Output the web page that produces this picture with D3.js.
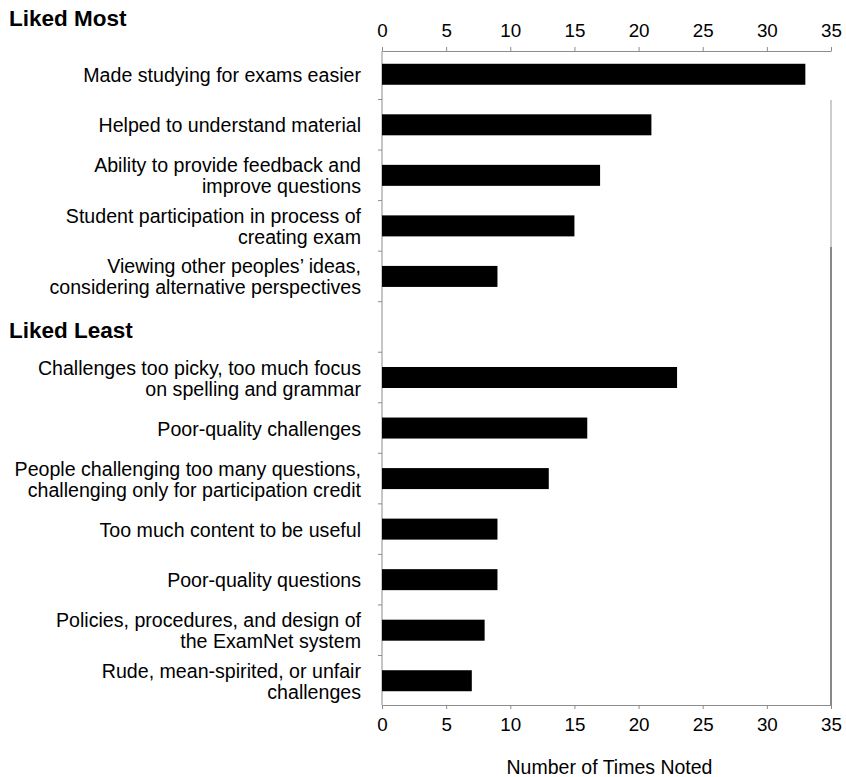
<!DOCTYPE html>
<html>
<head>
<meta charset="utf-8">
<script src="https://cdn.jsdelivr.net/npm/d3@7"></script>
<style>
  html, body { margin: 0; padding: 0; background: #fff; }
  svg { display: block; font-family: "Liberation Sans", Arial, Helvetica, sans-serif; }
</style>
</head>
<body>
<svg id="chart" width="846" height="777"></svg>
<script>
// ---- data ----
const groups = ["Liked Most", "Liked Least"];
const likedMostCategories = [
  "Made studying for exams easier",
  "Helped to understand material",
  "Ability to provide feedback and\nimprove questions",
  "Student participation in process of\ncreating exam",
  "Viewing other peoples\u2019 ideas,\nconsidering alternative perspectives"
];
const likedMostValues = [33, 21, 17, 15, 9];
const likedLeastCategories = [
  "Challenges too picky, too much focus\non spelling and grammar",
  "Poor-quality challenges",
  "People challenging too many questions,\nchallenging only for participation credit",
  "Too much content to be useful",
  "Poor-quality questions",
  "Policies, procedures, and design of\nthe ExamNet system",
  "Rude, mean-spirited, or unfair\nchallenges"
];
const likedLeastValues = [23, 16, 13, 9, 9, 8, 7];
const xTicks = [0, 5, 10, 15, 20, 25, 30, 35];
const xTitle = "Number of Times Noted";

// ---- build rows (with a spacer row for the second group header) ----
const rows = [];
likedMostCategories.forEach((c, i) => rows.push({ key: "m" + i, label: c, value: likedMostValues[i] }));
rows.push({ key: "spacer", label: null, value: null, header: groups[1] });
likedLeastCategories.forEach((c, i) => rows.push({ key: "l" + i, label: c, value: likedLeastValues[i] }));

const svg = d3.select("#chart");
const x0 = 382, x1 = 831, yTop = 51, yBot = 705;

const x = d3.scaleLinear().domain([0, 35]).range([x0, x1]);
const y = d3.scaleBand().domain(rows.map(r => r.key)).range([49, 706]).paddingInner(0).paddingOuter(0);
const barH = 21;
const gray = "#8c8c8c";

// Top axis
const topAxis = svg.append("g").attr("transform", `translate(0,${yTop})`)
  .call(d3.axisTop(x).tickValues(xTicks).tickSize(4).tickPadding(10).tickSizeOuter(0));
// Bottom axis
const botAxis = svg.append("g").attr("transform", `translate(0,${yBot})`)
  .call(d3.axisBottom(x).tickValues(xTicks).tickSize(4).tickPadding(9).tickSizeOuter(0));
[topAxis, botAxis].forEach(g => {
  g.select(".domain").attr("stroke", gray).attr("stroke-width", 1);
  g.selectAll(".tick line").attr("stroke", gray);
  g.selectAll(".tick text").attr("fill", "#000")
    .style("font-size", "18.8px")
    .style("font-family", "'Liberation Sans', Arial, Helvetica, sans-serif");
});

// Left axis line with ticks at row boundaries
svg.append("line").attr("x1", x0).attr("x2", x0).attr("y1", yTop).attr("y2", yBot)
  .attr("stroke", gray).attr("stroke-width", 1);
const boundaries = rows.map(r => y(r.key)).slice(1);
svg.append("g").selectAll("line").data(boundaries).join("line")
  .attr("x1", x0 - 4).attr("x2", x0)
  .attr("y1", d => d).attr("y2", d => d)
  .attr("stroke", gray);

// Right frame line
svg.append("line").attr("x1", x1).attr("x2", x1).attr("y1", 100).attr("y2", 247)
  .attr("stroke", "#9a9a9a").attr("stroke-width", 1);
svg.append("line").attr("x1", x1).attr("x2", x1).attr("y1", 247).attr("y2", yBot)
  .attr("stroke", "#111").attr("stroke-width", 1);

// Bars
const dataRows = rows.filter(r => r.value !== null);
svg.append("g").selectAll("rect").data(dataRows).join("rect")
  .attr("x", x(0))
  .attr("y", d => y(d.key) + y.bandwidth() / 2 - barH / 2)
  .attr("width", d => x(d.value) - x(0))
  .attr("height", barH)
  .attr("fill", "#000");

// Category labels
const lab = svg.append("g").selectAll("text").data(dataRows).join("text")
  .attr("text-anchor", "end")
  .attr("x", 361)
  .attr("y", d => y(d.key) + y.bandwidth() / 2)
  .style("font-size", "19.6px")
  .attr("fill", "#000");
lab.each(function (d) {
  const lines = d.label.split("\n");
  const t = d3.select(this);
  const lh = 21;
  const start = -(lines.length - 1) * lh / 2;
  lines.forEach((ln, i) => {
    t.append("tspan").attr("x", 361).attr("dy", i === 0 ? (start + 7.5) : lh).text(ln);
  });
});

// Group headers
svg.append("text").attr("x", 9).attr("y", 26).text(groups[0])
  .style("font-size", "22.5px").style("font-weight", "bold");
const spacer = rows.find(r => r.key === "spacer");
svg.append("text").attr("x", 9).attr("y", y(spacer.key) + y.bandwidth() / 2 + 11).text(spacer.header)
  .style("font-size", "22.5px").style("font-weight", "bold");

// X title
svg.append("text").attr("x", (x0 + x1) / 2 + 3).attr("y", 774).attr("text-anchor", "middle")
  .style("font-size", "19.5px").text(xTitle);
</script>
</body>
</html>
